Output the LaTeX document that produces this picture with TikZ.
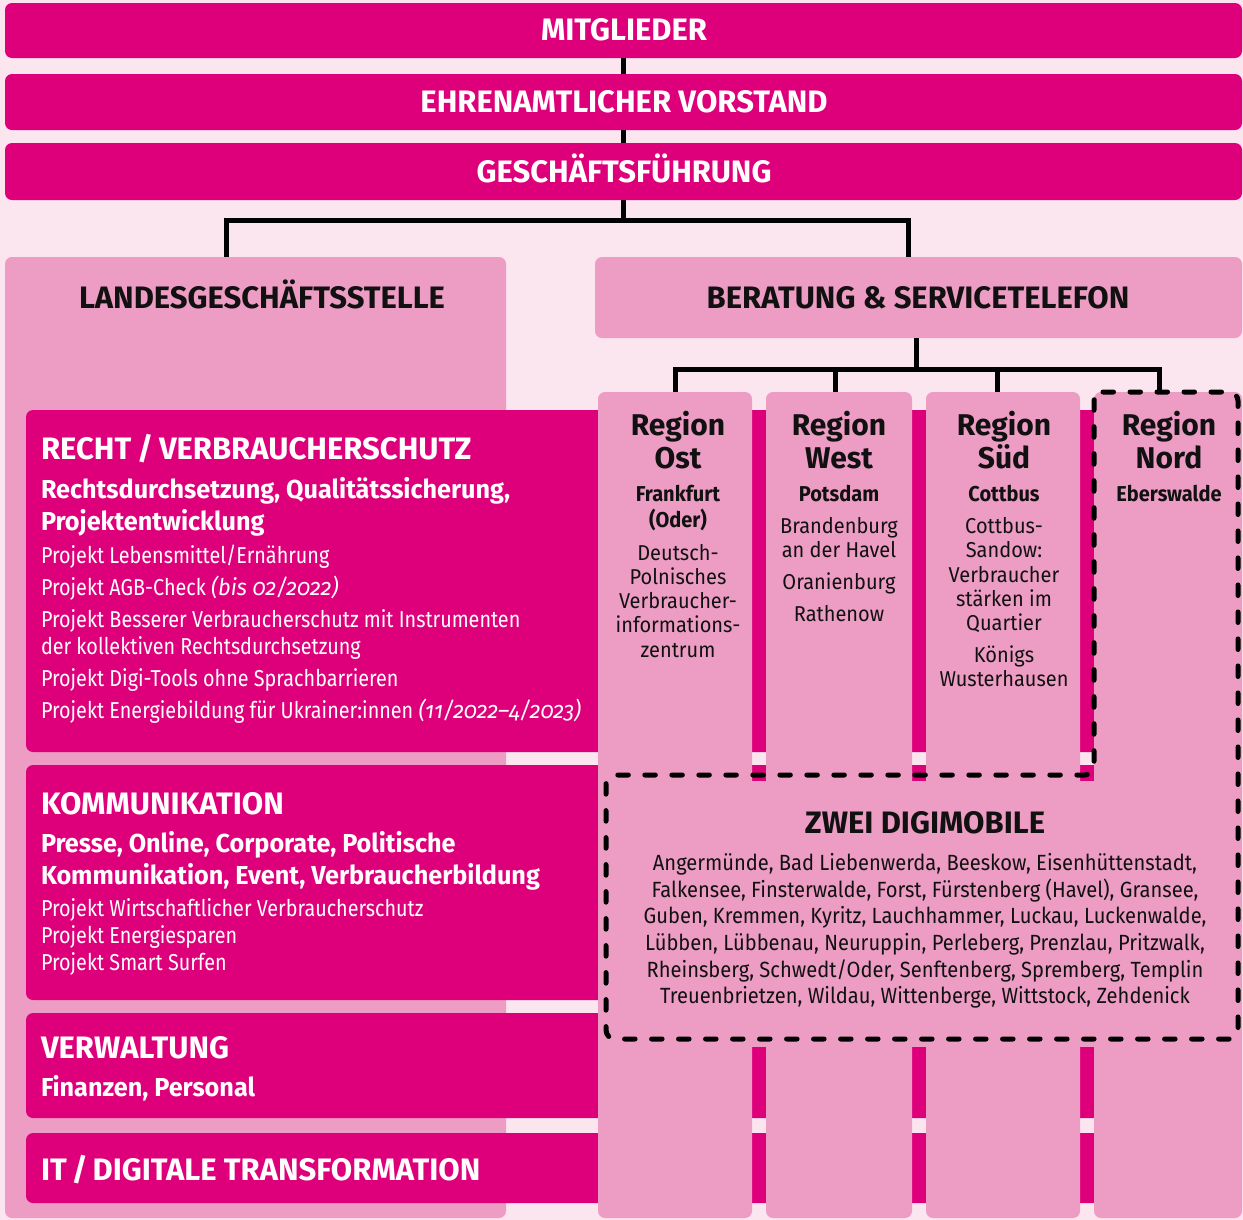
\documentclass[tikz,border=0pt]{standalone}
\usepackage{fontspec}
\setmainfont{Fira Sans}
\newfontfamily\fsA{Fira Sans}[FakeStretch=0.86]
\newfontfamily\fsB{Fira Sans}[FakeStretch=0.97]
\newfontfamily\fsC{Fira Sans}[FakeStretch=0.93]
\newfontfamily\fsD{Fira Sans}[FakeStretch=0.915]
\newfontfamily\fsIt{Fira Sans}[FakeStretch=0.95, Numbers=OldStyle]
\usetikzlibrary{fit,calc}
\definecolor{bgpink}{HTML}{FBE5EF}
\definecolor{lpink}{HTML}{ED9CC3}
\definecolor{mag}{HTML}{DE007B}
\definecolor{ink}{HTML}{111111}
\begin{document}
\begin{tikzpicture}[x=1bp,y=-1bp,
  box/.style={inner sep=0pt, outer sep=0pt, draw=none, rounded corners=7bp},
  magbox/.style={box, fill=mag},
  pinkbox/.style={box, fill=lpink},
  conn/.style={draw=black, line width=5bp},
  dashline/.style={draw=black, line width=5bp, line cap=round, dash pattern=on 10.5bp off 16.5bp, rounded corners=9bp},
  txt/.style={inner sep=0pt, outer sep=0pt},
  headw/.style={txt, anchor=base, text=white, font=\fontsize{31bp}{36bp}\selectfont\bfseries},
  headk/.style={txt, anchor=base, text=ink, font=\fontsize{31bp}{36bp}\selectfont\bfseries},
  bandhead/.style={txt, anchor=base west, text=white, font=\fontsize{31bp}{36bp}\selectfont\bfseries},
  bandsub/.style={txt, anchor=base west, text=white, font=\fsB\fontsize{26bp}{31bp}\selectfont\bfseries},
  bandline/.style={txt, anchor=base west, text=white, font=\fsA\fontsize{23bp}{27bp}\selectfont},
  regtitle/.style={txt, anchor=base, text=ink, font=\fontsize{30bp}{34bp}\selectfont\bfseries},
  regcity/.style={txt, anchor=base, text=ink, font=\fsC\fontsize{21.5bp}{25bp}\selectfont\bfseries},
  regline/.style={txt, anchor=base, text=ink, font=\fsC\fontsize{21.5bp}{25bp}\selectfont},
  digititle/.style={txt, anchor=base, text=ink, font=\fontsize{31bp}{35bp}\selectfont\bfseries},
  digiline/.style={txt, anchor=base, text=ink, font=\fsD\fontsize{22bp}{27bp}\selectfont},
]
\newcommand{\oldit}[1]{{\fsIt\itshape#1}}
% background
\fill[bgpink] (0,0) rectangle (1243,1220);
\useasboundingbox (0,0) rectangle (1243,1220);

% top bars
\node[magbox, fit={(5,3) (1242,58)}] (mit) {};
\node[magbox, fit={(5,74) (1242,130)}] (vor) {};
\node[magbox, fit={(5,143) (1242,200)}] (gf) {};

% second level boxes
\node[pinkbox, fit={(5,257) (506,1218)}] (landes) {};
\node[pinkbox, fit={(595,257) (1242,338)}] (beratung) {};

% magenta bands
\node[magbox, fit={(26,410) (1100,752)}] (recht) {};
\node[magbox, fit={(26,765) (1100,1000)}] (komm) {};
\node[magbox, fit={(26,1013) (1100,1118)}] (verw) {};
\node[magbox, fit={(26,1133) (1100,1203)}] (it) {};

% region columns
\node[pinkbox, fit={(598,392) (752,1218)}] (ost) {};
\node[pinkbox, fit={(766,392) (912,1218)}] (west) {};
\node[pinkbox, fit={(926,392) (1080,1218)}] (sued) {};
\node[pinkbox, fit={(1094,392) (1242,1218)}] (nord) {};

% digimobile area
\node[fill=lpink, inner sep=0pt, outer sep=0pt, fit={(598,781) (1242,1047)}] (digi) {};
\draw[dashline] (1094,392) -- (1238,392) -- (1238,1039) -- (606,1039) -- (606,775) -- (1094,775) -- cycle;

% connectors
\coordinate (gj) at (gf.south |- 0,220);
\coordinate (lj) at ($(landes.north west)+(221,0)$);
\coordinate (bj) at ($(beratung.north west)+(313,0)$);
\draw[conn] (mit.south) -- (vor.north);
\draw[conn] (vor.south) -- (gf.north);
\draw[conn] (gf.south) -- (gj);
\draw[conn] (lj) |- (gj) -| (bj);

\coordinate (bs) at ($(beratung.south west)+(321,0)$);
\coordinate (rj) at ($(bs)+(0,31)$);
\coordinate (oc) at ($(ost.north west)+(77,0)$);
\coordinate (wc) at ($(west.north west)+(69,0)$);
\coordinate (sc) at ($(sued.north west)+(71,0)$);
\coordinate (nc) at ($(nord.north west)+(65,0)$);
\draw[conn] (bs) -- (rj);
\draw[conn] (oc) |- (rj) -| (nc);
\draw[conn] (wc) -- (wc |- rj);
\draw[conn] (sc) -- (sc |- rj);

% titles
\node[headw] (tmit) at (624,40) {MITGLIEDER};
\node[headw] (tvor) at (624,112) {EHRENAMTLICHER VORSTAND};
\node[headw] (tgf) at (624,182) {GESCHÄFTSFÜHRUNG};
\node[headk] (tlandes) at (262,308) {LANDESGESCHÄFTSSTELLE};
\node[headk] (tber) at (918,308) {BERATUNG \& SERVICETELEFON};

% Recht
\node[bandhead] (r0) at (41,459) {RECHT\hspace{-1.5bp} / \hspace{-1.5bp}VERBRAUCHERSCHUTZ};
\node[bandsub] (r1) at (41,498) {Rechtsdurchsetzung, Qualitätssicherung,};
\node[bandsub] (r2) at (41,530) {Projektentwicklung};
\node[bandline] (r3) at (41,563) {Projekt Lebensmittel/Ernährung};
\node[bandline] (r4) at (41,595) {Projekt AGB-Check \oldit{(bis 02/2022)}};
\node[bandline] (r5) at (41,627) {Projekt Besserer Verbraucherschutz mit Instrumenten};
\node[bandline] (r6) at (41,654) {der kollektiven Rechtsdurchsetzung};
\node[bandline] (r7) at (41,686) {Projekt Digi-Tools ohne Sprachbarrieren};
\node[bandline] (r8) at (41,718) {Projekt Energiebildung für Ukrainer:innen \oldit{(11/2022–4/2023)}};

% Kommunikation
\node[bandhead] (k0) at (41,814) {KOMMUNIKATION};
\node[bandsub] (k1) at (41,852) {Presse, Online, Corporate, Politische};
\node[bandsub] (k2) at (41,884) {Kommunikation, Event, Verbraucherbildung};
\node[bandline] (k3) at (41,916) {Projekt Wirtschaftlicher Verbraucherschutz};
\node[bandline] (k4) at (41,943) {Projekt Energiesparen};
\node[bandline] (k5) at (41,970) {Projekt Smart Surfen};

% Verwaltung
\node[bandhead] (v0) at (41,1058) {VERWALTUNG};
\node[bandsub] (v1) at (41,1096) {Finanzen, Personal};

% IT
\node[bandhead] (i0) at (41,1180) {IT\hspace{-2.5bp} / \hspace{-2.5bp}DIGITALE TRANSFORMATION};

% Region Ost
\node[regtitle] (o1) at (678,435) {Region};
\node[regtitle] (o2) at (678,468) {Ost};
\node[regcity] (o3) at (678,501) {Frankfurt};
\node[regcity] (o4) at (678,527) {(Oder)};
\node[regline] (o5) at (678,560) {Deutsch-};
\node[regline] (o6) at (678,584) {Polnisches};
\node[regline] (o7) at (678,608) {Verbraucher-};
\node[regline] (o8) at (678,632) {informations-};
\node[regline] (o9) at (678,657) {zentrum};

% Region West
\node[regtitle] (w1) at (839,435) {Region};
\node[regtitle] (w2) at (839,468) {West};
\node[regcity] (w3) at (839,501) {Potsdam};
\node[regline] (w4) at (839,533) {Brandenburg};
\node[regline] (w5) at (839,557) {an der Havel};
\node[regline] (w6) at (839,589) {Oranienburg};
\node[regline] (w7) at (839,621) {Rathenow};

% Region Sued
\node[regtitle] (s1) at (1004,435) {Region};
\node[regtitle] (s2) at (1004,468) {Süd};
\node[regcity] (s3) at (1004,501) {Cottbus};
\node[regline] (s4) at (1004,533) {Cottbus-};
\node[regline] (s5) at (1004,557) {Sandow:};
\node[regline] (s6) at (1004,582) {Verbraucher};
\node[regline] (s7) at (1004,606) {stärken im};
\node[regline] (s8) at (1004,630) {Quartier};
\node[regline] (s9) at (1004,662) {Königs};
\node[regline] (s10) at (1004,686) {Wusterhausen};

% Region Nord
\node[regtitle] (n1) at (1169,435) {Region};
\node[regtitle] (n2) at (1169,468) {Nord};
\node[regcity] (n3) at (1169,501) {Eberswalde};

% Digimobile
\node[digititle] (d0) at (925,833) {ZWEI DIGIMOBILE};
\node[digiline] (d1) at (925,870) {Angermünde, Bad Liebenwerda, Beeskow, Eisenhüttenstadt,};
\node[digiline] (d2) at (925,897) {Falkensee, Finsterwalde, Forst, Fürstenberg (Havel), Gransee,};
\node[digiline] (d3) at (925,923) {Guben, Kremmen, Kyritz, Lauchhammer, Luckau, Luckenwalde,};
\node[digiline] (d4) at (925,950) {Lübben, Lübbenau, Neuruppin, Perleberg, Prenzlau, Pritzwalk,};
\node[digiline] (d5) at (925,977) {Rheinsberg, Schwedt/Oder, Senftenberg, Spremberg, Templin};
\node[digiline] (d6) at (925,1003) {Treuenbrietzen, Wildau, Wittenberge, Wittstock, Zehdenick};
\end{tikzpicture}
\end{document}
